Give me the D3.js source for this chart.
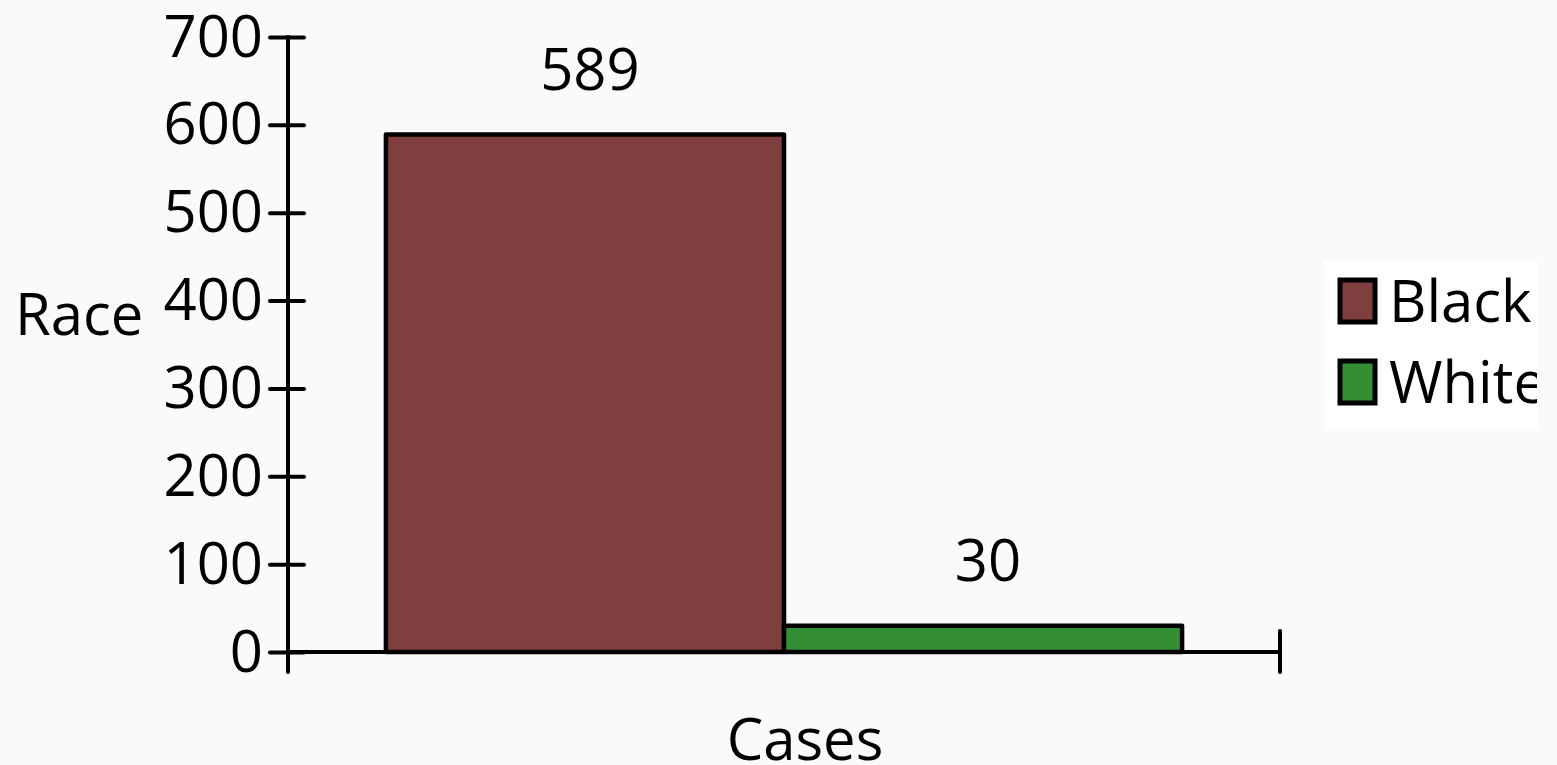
<!DOCTYPE html>
<html>
<head>
<meta charset="utf-8">
<script src="https://cdn.jsdelivr.net/npm/d3@7/dist/d3.min.js"></script>
<style>
  html, body { margin: 0; padding: 0; background: #fafafa; }
  svg { display: block; }
  text { font-family: "Open Sans", "Liberation Sans", sans-serif; fill: #000; }
</style>
</head>
<body>
<svg id="chart" width="1557" height="765"></svg>
<script>
// Data
const groups = ["Cases"];
const series = ["Black", "White"];
const values = [589, 30];
const colors = ["#7f3f3f", "#348e34"];
const yTicks = [0, 100, 200, 300, 400, 500, 600, 700];

const W = 1557, H = 765;
const fontSize = 58;
const svg = d3.select("#chart");

svg.append("rect").attr("width", W).attr("height", H).attr("fill", "#fafafa");

const plot = { left: 288, right: 1280, top: 37, bottom: 652 };

const y = d3.scaleLinear().domain([0, 700]).range([plot.bottom, plot.top]);
const x0 = d3.scaleBand().domain(groups).range([plot.left, plot.right])
  .paddingInner(0).paddingOuter(0.123);
const x1 = d3.scaleBand().domain(series).range([0, x0.bandwidth()]).padding(0);

// Bars with value labels
const g = svg.append("g");
groups.forEach(grp => {
  series.forEach((s, i) => {
    g.append("rect")
      .attr("x", x0(grp) + x1(s))
      .attr("y", y(values[i]))
      .attr("width", x1.bandwidth())
      .attr("height", y(0) - y(values[i]))
      .attr("fill", colors[i])
      .attr("stroke", "#000")
      .attr("stroke-width", 4.5)
      .attr("stroke-linejoin", "round");
    g.append("text")
      .attr("x", x0(grp) + x1(s) + x1.bandwidth() / 2 + 5)
      .attr("y", y(values[i]) - 45)
      .attr("text-anchor", "middle")
      .attr("font-size", fontSize)
      .text(values[i]);
  });
});

// Y axis
const yAxis = svg.append("g")
  .attr("transform", `translate(${plot.left},0)`)
  .call(d3.axisLeft(y).tickValues(yTicks).tickSize(18).tickPadding(24));
yAxis.select(".domain").remove();
yAxis.selectAll(".tick line")
  .attr("x1", -18).attr("x2", 16)
  .attr("stroke", "#000").attr("stroke-width", 4).attr("stroke-linecap", "round");
yAxis.selectAll(".tick text")
  .attr("font-size", fontSize)
  .attr("font-family", "Open Sans, Liberation Sans, sans-serif")
  .attr("x", -25)
  .attr("dy", "0.33em");
yAxis.append("line")
  .attr("x1", 0).attr("x2", 0)
  .attr("y1", y(700)).attr("y2", y(0) + 20)
  .attr("stroke", "#000").attr("stroke-width", 4).attr("stroke-linecap", "round");

// X axis with boundary tick
const xAxis = svg.append("g");
xAxis.append("line")
  .attr("x1", plot.left).attr("x2", plot.right)
  .attr("y1", y(0)).attr("y2", y(0))
  .attr("stroke", "#000").attr("stroke-width", 4);
xAxis.append("line")
  .attr("x1", plot.right).attr("x2", plot.right)
  .attr("y1", y(0) - 21).attr("y2", y(0) + 20)
  .attr("stroke", "#000").attr("stroke-width", 4).attr("stroke-linecap", "round");

// Axis titles
svg.append("defs").append("clipPath").attr("id", "ytitle-clip")
  .append("rect").attr("x", 0).attr("y", 0).attr("width", 145).attr("height", H);
svg.append("text")
  .attr("clip-path", "url(#ytitle-clip)")
  .attr("x", 15).attr("y", 335)
  .attr("font-size", fontSize)
  .attr("font-weight", 500)
  .text("Race");
svg.append("text")
  .attr("x", (plot.left + plot.right) / 2 + 21).attr("y", 760)
  .attr("text-anchor", "middle")
  .attr("font-size", fontSize)
  .attr("font-weight", 500)
  .text(groups[0]);

// Legend
const legend = svg.append("g");
legend.append("rect")
  .attr("x", 1324).attr("y", 260).attr("width", 214).attr("height", 170)
  .attr("fill", "#ffffff");
svg.select("defs").append("clipPath").attr("id", "legend-clip")
  .append("rect").attr("x", 1324).attr("y", 260).attr("width", 213).attr("height", 170);
series.forEach((s, i) => {
  const ly = 280 + i * 81;
  legend.append("rect")
    .attr("x", 1340).attr("y", ly).attr("width", 35).attr("height", 42)
    .attr("fill", colors[i]).attr("stroke", "#000").attr("stroke-width", 5);
  legend.append("text")
    .attr("clip-path", "url(#legend-clip)")
    .attr("x", 1389).attr("y", ly + 42)
    .attr("font-size", fontSize)
    .text(s);
});
</script>
</body>
</html>
